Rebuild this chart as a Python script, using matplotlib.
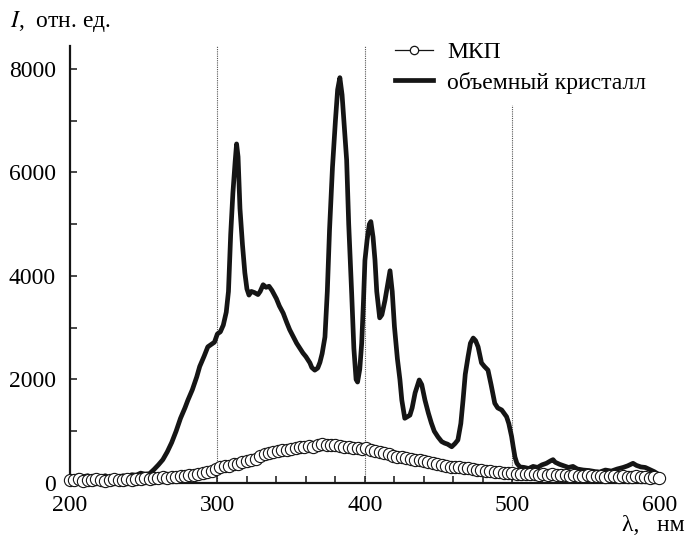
import numpy as np
import matplotlib
matplotlib.use("Agg")
import matplotlib.pyplot as plt
from matplotlib.lines import Line2D
from matplotlib.ticker import MultipleLocator

plt.rcParams['font.family'] = ['Liberation Serif', 'DejaVu Serif']
plt.rcParams['mathtext.fontset'] = 'stix'

# bulk crystal spectrum (nm, rel. units)
bulk_nm = [200, 203, 206, 209, 212, 215, 218, 221, 224, 227, 230, 233, 236, 239, 242, 245, 248, 251,
           254, 257, 260, 263, 266, 269, 272, 275, 278, 280, 283, 286, 288, 291, 293.5, 296, 298, 300,
           302, 304, 306, 307.5, 309, 310.5, 312, 313, 314, 315.3, 317, 318.6, 320, 321.4, 323, 325,
           327.5, 329, 331, 333, 335, 337, 340, 342, 344.6, 347, 349, 351, 353.7, 356, 358, 360, 362.7,
           364, 366, 368, 369.5, 371, 372.9, 374.5, 376, 378, 380, 381.5, 383, 384.5, 386, 387.6, 389,
           391, 392.5, 394, 395, 396.5, 397.8, 399, 400, 401.5, 403, 404, 405.5, 406.8, 408, 410, 411.5,
           413.6, 415.5, 417, 418.5, 420, 422, 423.7, 425, 427, 430.5, 432, 434, 436.8, 438.5, 440.7,
           443, 445, 447, 449.5, 452, 454, 456, 458.8, 461, 463, 465, 466.5, 468, 469.9, 471.5, 473.4,
           475, 476.7, 479, 481, 483.4, 485.5, 488, 490, 492.7, 496, 497.5, 499.4, 500.5, 501.7, 503,
           505, 508, 511, 514, 517, 520, 523, 526, 527.5, 529, 532, 535, 538, 541, 544, 548, 552, 556,
           559, 563, 567, 571, 575, 578, 581.7, 584, 587, 590, 593, 596, 600]
bulk_val = [130, 110, 150, 120, 140, 100, 130, 110, 140, 100, 120, 110, 140, 120, 160, 150, 190, 170,
            180, 260, 350, 450, 600, 780, 1000, 1250, 1450, 1600, 1800, 2050, 2250, 2450, 2630, 2680, 2720, 2880,
            2920, 3050, 3300, 3700, 4800, 5600, 6200, 6550, 6300, 5300, 4600, 4060, 3750, 3630, 3700, 3680,
            3640, 3700, 3830, 3780, 3800, 3720, 3560, 3420, 3280, 3100, 2960, 2850, 2700, 2600, 2510, 2440, 2320,
            2230, 2180, 2220, 2330, 2500, 2820, 3700, 4890, 6100, 7000, 7600, 7830, 7500, 6900, 6240, 5000,
            3670, 2600, 2000, 1950, 2200, 2700, 3500, 4300, 4700, 5000, 5050, 4750, 4310, 3700, 3190, 3250,
            3530, 3850, 4100, 3700, 3020, 2400, 2000, 1600, 1250, 1310, 1450, 1740, 1990, 1900, 1600,
            1350, 1160, 1000, 890, 800, 770, 750, 700, 760, 830, 1150, 1600, 2100, 2440, 2700, 2800,
            2750, 2630, 2320, 2250, 2180, 1900, 1540, 1450, 1410, 1280, 1150, 900, 700, 500, 380,
            310, 300, 280, 320, 300, 350, 380, 430, 450, 400, 360, 330, 300, 320, 270, 250, 240, 220,
            210, 250, 230, 270, 300, 330, 380, 340, 310, 300, 260, 220, 150]

# MCP spectrum, sampled every 3 nm
mcp_nm = np.arange(200, 600, 3)
mcp_val = [60, 50, 70, 40, 60, 50, 70, 60, 40, 60, 70, 50, 60, 70,
           60, 80, 70, 90, 80, 100, 90, 110, 100, 120,
           110, 130, 140, 150, 160, 170, 190, 220, 230, 270,
           300, 320, 330, 360, 370, 410, 420, 450, 470, 520,
           560, 580, 600, 610, 640, 630, 650, 680, 690, 700,
           720, 700, 730, 750, 740, 730, 740, 720, 700, 690,
           680, 670, 660, 680, 640, 610, 600, 580, 560, 530,
           510, 500, 480, 460, 450, 440, 430, 410, 390, 370,
           350, 330, 310, 300, 310, 290, 280, 270, 260, 250,
           240, 230, 220, 210, 200, 190, 200, 180, 170, 180,
           170, 180, 160, 170, 150, 170, 160, 150, 160, 140,
           150, 140, 130, 150, 140, 130, 140, 120, 130, 140,
           120, 130, 110, 120, 130, 110, 120, 100, 110, 100]

fig = plt.figure(figsize=(6.85, 5.4), dpi=100)
ax = fig.add_axes([0.102, 0.1056, 0.8615, 0.81])

ax.axvline(300, color='#555555', lw=0.8, ls=(0, (1, 1)), zorder=1)
ax.axvline(400, color='#555555', lw=0.8, ls=(0, (1, 1)), zorder=1)
ax.axvline(500, ymax=0.864, color='#555555', lw=0.8, ls=(0, (1, 1)), zorder=1)

ax.plot(bulk_nm, bulk_val, color='#151515', lw=3.4, zorder=2)
ax.plot(mcp_nm, mcp_val, ls='none', marker='o', ms=8.8, mfc='white', mec='#151515',
        mew=0.8, zorder=3, clip_on=False)

ax.set_xlim(200, 600)
ax.set_ylim(0, 8450)
ax.xaxis.set_major_locator(MultipleLocator(100))
ax.xaxis.set_minor_locator(MultipleLocator(20))
ax.yaxis.set_major_locator(MultipleLocator(2000))
ax.yaxis.set_minor_locator(MultipleLocator(1000))
ax.tick_params(which='both', direction='in', length=5, width=1.1, labelsize=17, color='#151515')
ax.tick_params(axis='y', pad=10)
ax.tick_params(axis='x', pad=9)
for s in ['top', 'right']:
    ax.spines[s].set_visible(False)
for s in ['left', 'bottom']:
    ax.spines[s].set_linewidth(1.6)
    ax.spines[s].set_color('#151515')

handles = [Line2D([], [], color='#151515', lw=0.9, marker='o', ms=6, mfc='white', mew=0.9),
           Line2D([], [], color='#151515', lw=3.4)]
ax.legend(handles, ['МКП', 'объемный кристалл'], loc='upper left', bbox_to_anchor=(0.535, 1.03),
          frameon=False, fontsize=17, handlelength=1.6, handletextpad=0.6, labelspacing=0.35,
          borderaxespad=0)

fig.text(0.014, 0.96, r'$I$,  отн. ед.', fontsize=17, va='center')
fig.text(0.999, 0.027, 'λ,   нм', fontsize=17, ha='right', va='center')

fig.savefig('out.png', dpi=100)
